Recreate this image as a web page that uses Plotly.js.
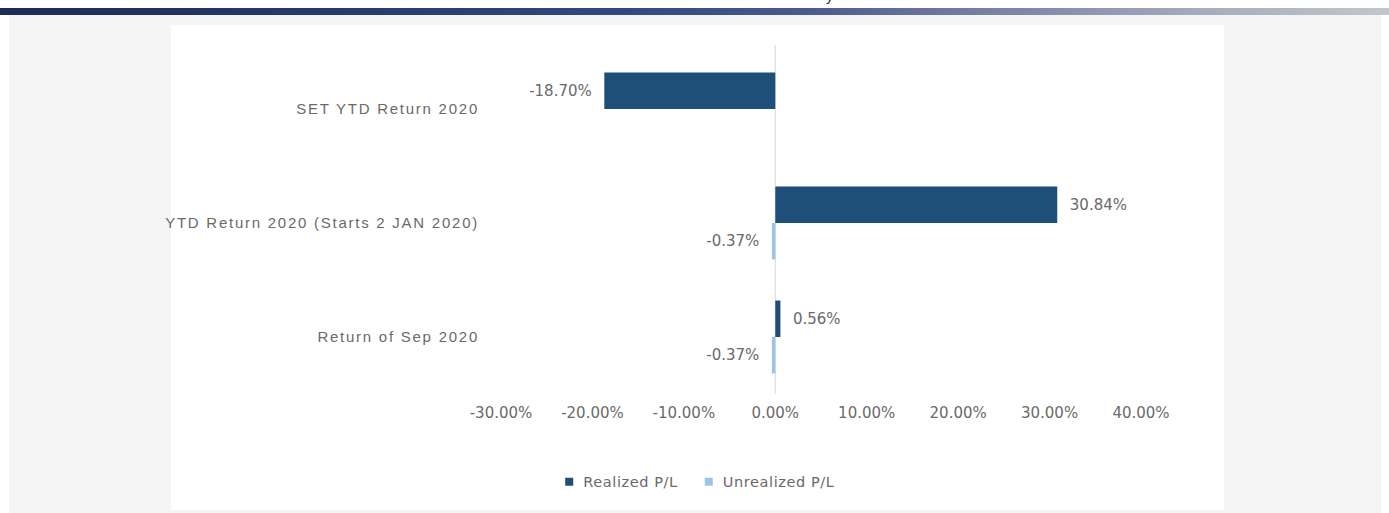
<!DOCTYPE html>
<html>
<head>
<meta charset="utf-8">
<script src="https://cdn.plot.ly/plotly-3.0.1.min.js"></script>
<style>
  html, body { margin:0; padding:0; width:1389px; height:513px; overflow:hidden; background:#ffffff; position:relative; }
  #topbar { position:absolute; left:0; top:8px; width:1389px; height:7px;
    background: linear-gradient(to right, #1e2a58 0%, #283a6e 25%, #34477f 45%, #4a5a8f 58%, #7a83a6 72%, #a6aabd 86%, #c3c6c9 100%); }
  #cut { position:absolute; left:826px; top:-13px; font-family:"Liberation Sans", Arial, sans-serif; font-size:15px; color:#333; }
  #bg { position:absolute; left:9px; top:15px; width:1372px; height:498px; background:#f5f5f5; }
  #panel { position:absolute; left:171px; top:25px; width:1053px; height:485px; background:#ffffff; }
  #chart { position:absolute; left:0; top:0; width:1389px; height:513px; }
  .ytick text { letter-spacing:1.75px; }
  .legendtext { letter-spacing:0.6px; }
</style>
</head>
<body>
<div id="topbar"></div>
<div id="cut">y</div>
<div id="bg"></div>
<div id="panel"></div>
<div id="chart"></div>
<script>
const categories = ["SET YTD Return 2020", "YTD Return 2020 (Starts 2 JAN 2020)", "Return of Sep 2020"];
const realizedPL = [-18.70, 30.84, 0.56];
const unrealizedPL = [null, -0.37, -0.37];
const seriesNames = ["Realized P/L", "Unrealized P/L"];
const xTickVals = [-30, -20, -10, 0, 10, 20, 30, 40];
const xTickText = ["-30.00%", "-20.00%", "-10.00%", "0.00%", "10.00%", "20.00%", "30.00%", "40.00%"];

const NB = "\u00a0";
function labels(vals) {
  return vals.map(v => v === null ? "" :
    (v < 0 ? v.toFixed(2) + "%" + NB + NB : NB + NB + v.toFixed(2) + "%"));
}

const valueFont = {family: "DejaVu Sans", size: 15, color: "#6a6a6a"};

const traces = [
  {
    type: "bar", orientation: "h", name: seriesNames[0],
    y: categories, x: realizedPL,
    marker: {color: "#1f4e79"},
    text: labels(realizedPL), textposition: "outside", textfont: valueFont,
    constraintext: "none", cliponaxis: false, hoverinfo: "skip"
  },
  {
    type: "bar", orientation: "h", name: seriesNames[1],
    y: categories, x: unrealizedPL,
    marker: {color: "#9dc3e6"},
    text: labels(unrealizedPL), textposition: "outside", textfont: valueFont,
    constraintext: "none", cliponaxis: false, hoverinfo: "skip"
  }
];

const layout = {
  width: 1389, height: 513,
  paper_bgcolor: "rgba(0,0,0,0)", plot_bgcolor: "rgba(0,0,0,0)",
  margin: {l: 501, r: 248, t: 52, b: 119, pad: 0},
  barmode: "group", bargap: 0.36, bargroupgap: 0,
  showlegend: true,
  legend: {orientation: "h", x: 0.298, xanchor: "center", y: -0.257, yanchor: "middle",
    font: {family: "DejaVu Sans", size: 14.5, color: "#6a6a6a"}, bgcolor: "rgba(0,0,0,0)"},
  shapes: [{type: "line", xref: "x", yref: "paper", x0: 0, x1: 0, y0: 0, y1: 1.02,
    line: {color: "#d9d9d9", width: 1}, layer: "below"}],
  xaxis: {
    range: [-30, 40], tickvals: xTickVals, ticktext: xTickText,
    showgrid: false, zeroline: false,
    showline: false, ticks: "", ticklabelstandoff: 8,
    tickfont: {family: "DejaVu Sans", size: 15, color: "#6a6a6a"},
    fixedrange: true
  },
  yaxis: {
    type: "category", autorange: "reversed",
    showgrid: false, zeroline: false, showline: false, ticks: "",
    automargin: false, ticklabelstandoff: 21,
    tickfont: {family: "Liberation Sans", size: 15, color: "#6a6a6a"},
    fixedrange: true
  }
};

Plotly.newPlot("chart", traces, layout, {displayModeBar: false, staticPlot: true}).then(() => {
  document.querySelectorAll(".legendpoints path").forEach(p => {
    p.setAttribute("d", "M4,4H-4V-4H4Z");
  });
  document.querySelectorAll(".legendpoints").forEach(g => {
    g.setAttribute("transform", "translate(6,0)");
  });
});
</script>
</body>
</html>
